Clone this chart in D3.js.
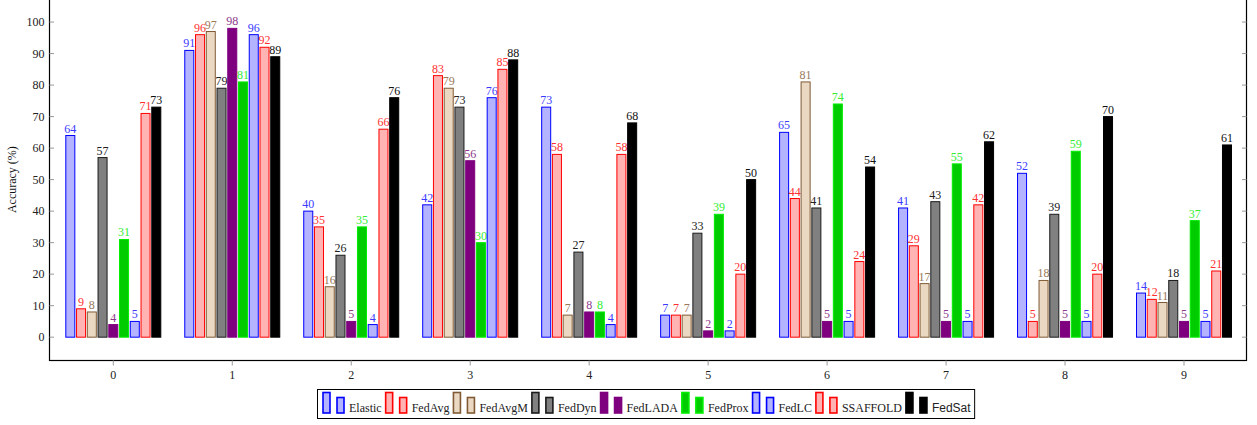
<!DOCTYPE html>
<html>
<head>
<meta charset="utf-8">
<script src="https://cdn.jsdelivr.net/npm/d3@7"></script>
<style>
  body { margin: 0; background: #fff; }
  svg { display: block; font-family: "Liberation Serif", serif; }
</style>
</head>
<body>
<svg id="chart" width="1257" height="425"></svg>
<script>
// accuracy per client split
const categories = ["0", "1", "2", "3", "4", "5", "6", "7", "8", "9"];
const seriesNames = ["Elastic", "FedAvg", "FedAvgM", "FedDyn", "FedLADA", "FedProx", "FedLC", "SSAFFOLD", "FedSat"];

const elastic  = [64, 91, 40, 42, 73,  7, 65, 41, 52, 14];
const fedAvg   = [ 9, 96, 35, 83, 58,  7, 44, 29,  5, 12];
const fedAvgM  = [ 8, 97, 16, 79,  7,  7, 81, 17, 18, 11];
const fedDyn   = [57, 79, 26, 73, 27, 33, 41, 43, 39, 18];
const fedLADA  = [ 4, 98,  5, 56,  8,  2,  5,  5,  5,  5];
const fedProx  = [31, 81, 35, 30,  8, 39, 74, 55, 59, 37];
const fedLC    = [ 5, 96,  4, 76,  4,  2,  5,  5,  5,  5];
const ssaffold = [71, 92, 66, 85, 58, 20, 24, 42, 20, 21];
const fedSat   = [73, 89, 76, 88, 68, 50, 54, 62, 70, 61];

const yTicks = [0, 10, 20, 30, 40, 50, 60, 70, 80, 90, 100];

const seriesValues = [elastic, fedAvg, fedAvgM, fedDyn, fedLADA, fedProx, fedLC, ssaffold, fedSat];

// look of each series: fill, outline, label colour
const styles = [
  { fill: "#b3b3ff", stroke: "#0000ff", label: "#3b3bff" },
  { fill: "#ffb3b3", stroke: "#ff0000", label: "#ff3030" },
  { fill: "#ead8c3", stroke: "#7f5a35", label: "#9a7858" },
  { fill: "#808080", stroke: "#1a1a1a", label: "#222222" },
  { fill: "#7f007f", stroke: "#7f007f", label: "#8c3a8c" },
  { fill: "#00cc00", stroke: "#00ee00", label: "#33ee33" },
  { fill: "#b3b3ff", stroke: "#0000ff", label: "#3b3bff" },
  { fill: "#ffb3b3", stroke: "#ff0000", label: "#ff3030" },
  { fill: "#000000", stroke: "#000000", label: "#111111" }
];

const svg = d3.select("#chart");
const plotL = 49.5, plotR = 1246.5, plotT = -1, plotB = 360.5;

const y = d3.scaleLinear().domain([-7.4, 107]).range([plotB, 0]);
const x0 = d3.scalePoint().domain(categories).range([113.3, 1184]);
const x1 = d3.scaleBand().domain(seriesNames).range([-47.5, 47.5]).paddingInner(0.16);

// frame
svg.append("rect")
  .attr("x", plotL).attr("y", plotT)
  .attr("width", plotR - plotL).attr("height", plotB - plotT)
  .attr("fill", "none").attr("stroke", "#000").attr("stroke-width", 1.2);

// y ticks: inside on both sides
const yg = svg.append("g");
yg.selectAll(".tl").data(yTicks).enter().append("line")
  .attr("x1", plotL).attr("x2", plotL + 4.5)
  .attr("y1", d => y(d)).attr("y2", d => y(d))
  .attr("stroke", "#999");
yg.selectAll(".tr").data(yTicks).enter().append("line")
  .attr("x1", plotR).attr("x2", plotR - 4.5)
  .attr("y1", d => y(d)).attr("y2", d => y(d))
  .attr("stroke", "#999");
yg.selectAll("text").data(yTicks).enter().append("text")
  .attr("x", plotL - 5).attr("y", d => y(d))
  .attr("dy", "0.35em")
  .attr("text-anchor", "end")
  .attr("font-size", 12)
  .attr("fill", "#222")
  .text(d => d);

svg.append("text")
  .attr("transform", `translate(16,${y(50)}) rotate(-90)`)
  .attr("text-anchor", "middle")
  .attr("font-size", 12)
  .attr("fill", "#111")
  .text("Accuracy (%)");

// x ticks
const xg = svg.append("g");
xg.selectAll("line").data(categories).enter().append("line")
  .attr("x1", d => x0(d)).attr("x2", d => x0(d))
  .attr("y1", plotB).attr("y2", plotB + 5)
  .attr("stroke", "#999");
xg.selectAll("text").data(categories).enter().append("text")
  .attr("x", d => x0(d)).attr("y", plotB + 14)
  .attr("dy", "0.35em")
  .attr("text-anchor", "middle")
  .attr("font-size", 12)
  .attr("fill", "#222")
  .text(d => d);

// bars + value labels
seriesNames.forEach((name, si) => {
  const st = styles[si];
  const vals = seriesValues[si];
  const g = svg.append("g").attr("class", "series");
  g.selectAll("rect").data(vals).enter().append("rect")
    .attr("x", (d, i) => x0(categories[i]) + x1(name))
    .attr("y", d => y(d))
    .attr("width", x1.bandwidth())
    .attr("height", d => y(0) - y(d))
    .attr("fill", st.fill)
    .attr("stroke", st.stroke)
    .attr("stroke-width", 1);
  g.selectAll("text").data(vals).enter().append("text")
    .attr("x", (d, i) => x0(categories[i]) + x1(name) + x1.bandwidth() / 2)
    .attr("y", d => y(d) - 3)
    .attr("text-anchor", "middle")
    .attr("font-size", 12)
    .attr("fill", st.label)
    .text(d => d);
});

// legend
const lg = svg.append("g");
const legTop = 389.5, legBottom = 418.5;
let lx = 323;
seriesNames.forEach((name, si) => {
  const st = styles[si];
  lg.append("rect")
    .attr("x", lx).attr("y", 392.5).attr("width", 7).attr("height", 20.5)
    .attr("fill", st.fill).attr("stroke", st.stroke).attr("stroke-width", 1.6);
  lg.append("rect")
    .attr("x", lx + 14).attr("y", 397.5).attr("width", 7).attr("height", 15.5)
    .attr("fill", st.fill).attr("stroke", st.stroke).attr("stroke-width", 1.6);
  const t = lg.append("text")
    .attr("x", lx + 26).attr("y", 411.5)
    .attr("font-size", 12)
    .attr("fill", "#222")
    .style("font-family", name === "FedSat" ? "'Liberation Sans', sans-serif" : null)
    .text(name);
  lx += 26 + t.node().getComputedTextLength() + 4;
});
lg.insert("rect", ":first-child")
  .attr("x", 317.5).attr("y", legTop)
  .attr("width", lx - 317.5).attr("height", legBottom - legTop)
  .attr("fill", "#fff").attr("stroke", "#000").attr("stroke-width", 1);
</script>
</body>
</html>
